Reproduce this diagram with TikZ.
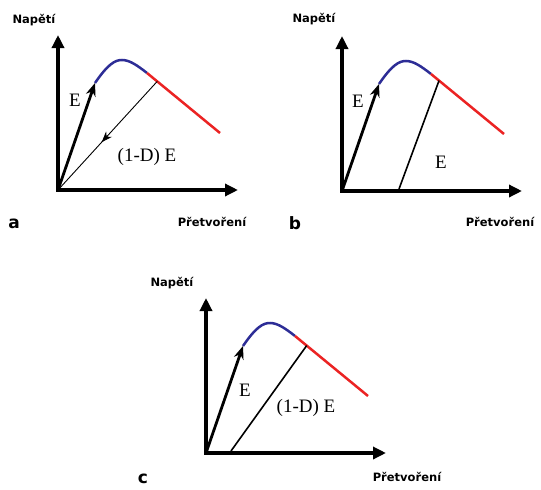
\documentclass[tikz,border=0pt]{standalone}
\usepackage{fontspec}
\setmainfont{Liberation Serif}
\newfontfamily\labelfont{DejaVu Sans}
\usetikzlibrary{arrows.meta,calc}
\definecolor{curveblue}{RGB}{45,45,150}
\definecolor{curvered}{RGB}{235,35,35}
\begin{document}
\begin{tikzpicture}[
        x=1pt, y=-1pt, % pixel grid of the reference
        axis/.style={line width=4.8pt, line join=miter, {Triangle[length=13pt,width=12pt]}-{Triangle[length=13pt,width=12pt]}},
        stiff/.style={line width=2.8pt, -{Stealth[length=13pt,width=10pt]}},
        unload/.style={line width=1.6pt},
        rise/.style={line width=2.5pt, draw=curveblue},
        soft/.style={line width=2.5pt, draw=curvered},
        modlabel/.style={font=\fontsize{19}{19}\selectfont},
        axlabel/.style={font=\labelfont\bfseries\fontsize{11.5}{12}\selectfont},
        panel/.style={font=\labelfont\bfseries\fontsize{17}{17}\selectfont}
    ]
    \useasboundingbox (0,0) rectangle (541,490);

    % Panel a: unloading back to the origin
    \begin{scope}[shift={(58,190)}]
        \coordinate (Oa) at (0,0);
        \coordinate (Ya) at (0,-155);
        \coordinate (Xa) at (180,0);
        \coordinate (Ea) at (37,-107);
        \coordinate (Pa) at (89,-117);
        \coordinate (Ra) at (162,-57);
        \coordinate (Ua) at ($(Pa)!0.14!(Ra)$);
        \draw[axis] (Ya) -- (Oa) -- (Xa);
        \draw[stiff] (Oa) -- (Ea);
        \draw[rise] (Ea) .. controls (50,-126) and (57,-130) .. (64,-130) .. controls (72,-130) and (80,-124) .. (Pa);
        \draw[soft] (Pa) -- (Ra);
        \draw[line width=0.9pt, -{Stealth[length=11pt,width=8pt]}] (Ua) -- ($(Ua)!0.56!(Oa)$);
        \draw[line width=0.9pt] ($(Ua)!0.5!(Oa)$) -- (Oa);
        \node[modlabel] (ea) at (17,-90) {E};
        \node[modlabel] (da) at (89,-33) {(1-D) E};
    \end{scope}
    \node[axlabel] (ya) at (34,20) {Napětí};
    \node[axlabel] (xa) at (212,222) {Přetvoření};
    \node[panel] (a) at (14,224) {a};

    % Panel b: unloading with the initial modulus
    \begin{scope}[shift={(342,191)}]
        \coordinate (Ob) at (0,0);
        \coordinate (Yb) at (0,-155);
        \coordinate (Xb) at (180,0);
        \coordinate (Eb) at (37,-107);
        \coordinate (Pb) at (89,-117);
        \coordinate (Rb) at (162,-57);
        \coordinate (Ub) at ($(Pb)!0.11!(Rb)$);
        \coordinate (Zb) at (57,-2);
        \draw[axis] (Yb) -- (Ob) -- (Xb);
        \draw[stiff] (Ob) -- (Eb);
        \draw[rise] (Eb) .. controls (50,-126) and (57,-130) .. (64,-130) .. controls (72,-130) and (80,-124) .. (Pb);
        \draw[soft] (Pb) -- (Rb);
        \draw[unload] (Ub) -- (Zb);
        \node[modlabel] (eb) at (16,-90) {E};
        \node[modlabel] (db) at (99,-29) {E};
    \end{scope}
    \node[axlabel] (yb) at (314,19) {Napětí};
    \node[axlabel] (xb) at (500,222) {Přetvoření};
    \node[panel] (b) at (295,223) {b};

    % Panel c: unloading with reduced modulus
    \begin{scope}[shift={(206,453)}]
        \coordinate (Oc) at (0,0);
        \coordinate (Yc) at (0,-155);
        \coordinate (Xc) at (180,0);
        \coordinate (Ec) at (37,-107);
        \coordinate (Pc) at (89,-117);
        \coordinate (Rc) at (162,-57);
        \coordinate (Uc) at ($(Pc)!0.16!(Rc)$);
        \coordinate (Zc) at (25,-2);
        \draw[axis] (Yc) -- (Oc) -- (Xc);
        \draw[stiff] (Oc) -- (Ec);
        \draw[rise] (Ec) .. controls (50,-126) and (57,-130) .. (64,-130) .. controls (72,-130) and (80,-124) .. (Pc);
        \draw[soft] (Pc) -- (Rc);
        \draw[unload] (Uc) -- (Zc);
        \node[modlabel] (ec) at (39,-63) {E};
        \node[modlabel] (dc) at (100,-45) {(1-D) E};
    \end{scope}
    \node[axlabel] (yc) at (172,283) {Napětí};
    \node[axlabel] (xc) at (407,477) {Přetvoření};
    \node[panel] (c) at (143,479) {c};

    \end{tikzpicture}
\end{document}
